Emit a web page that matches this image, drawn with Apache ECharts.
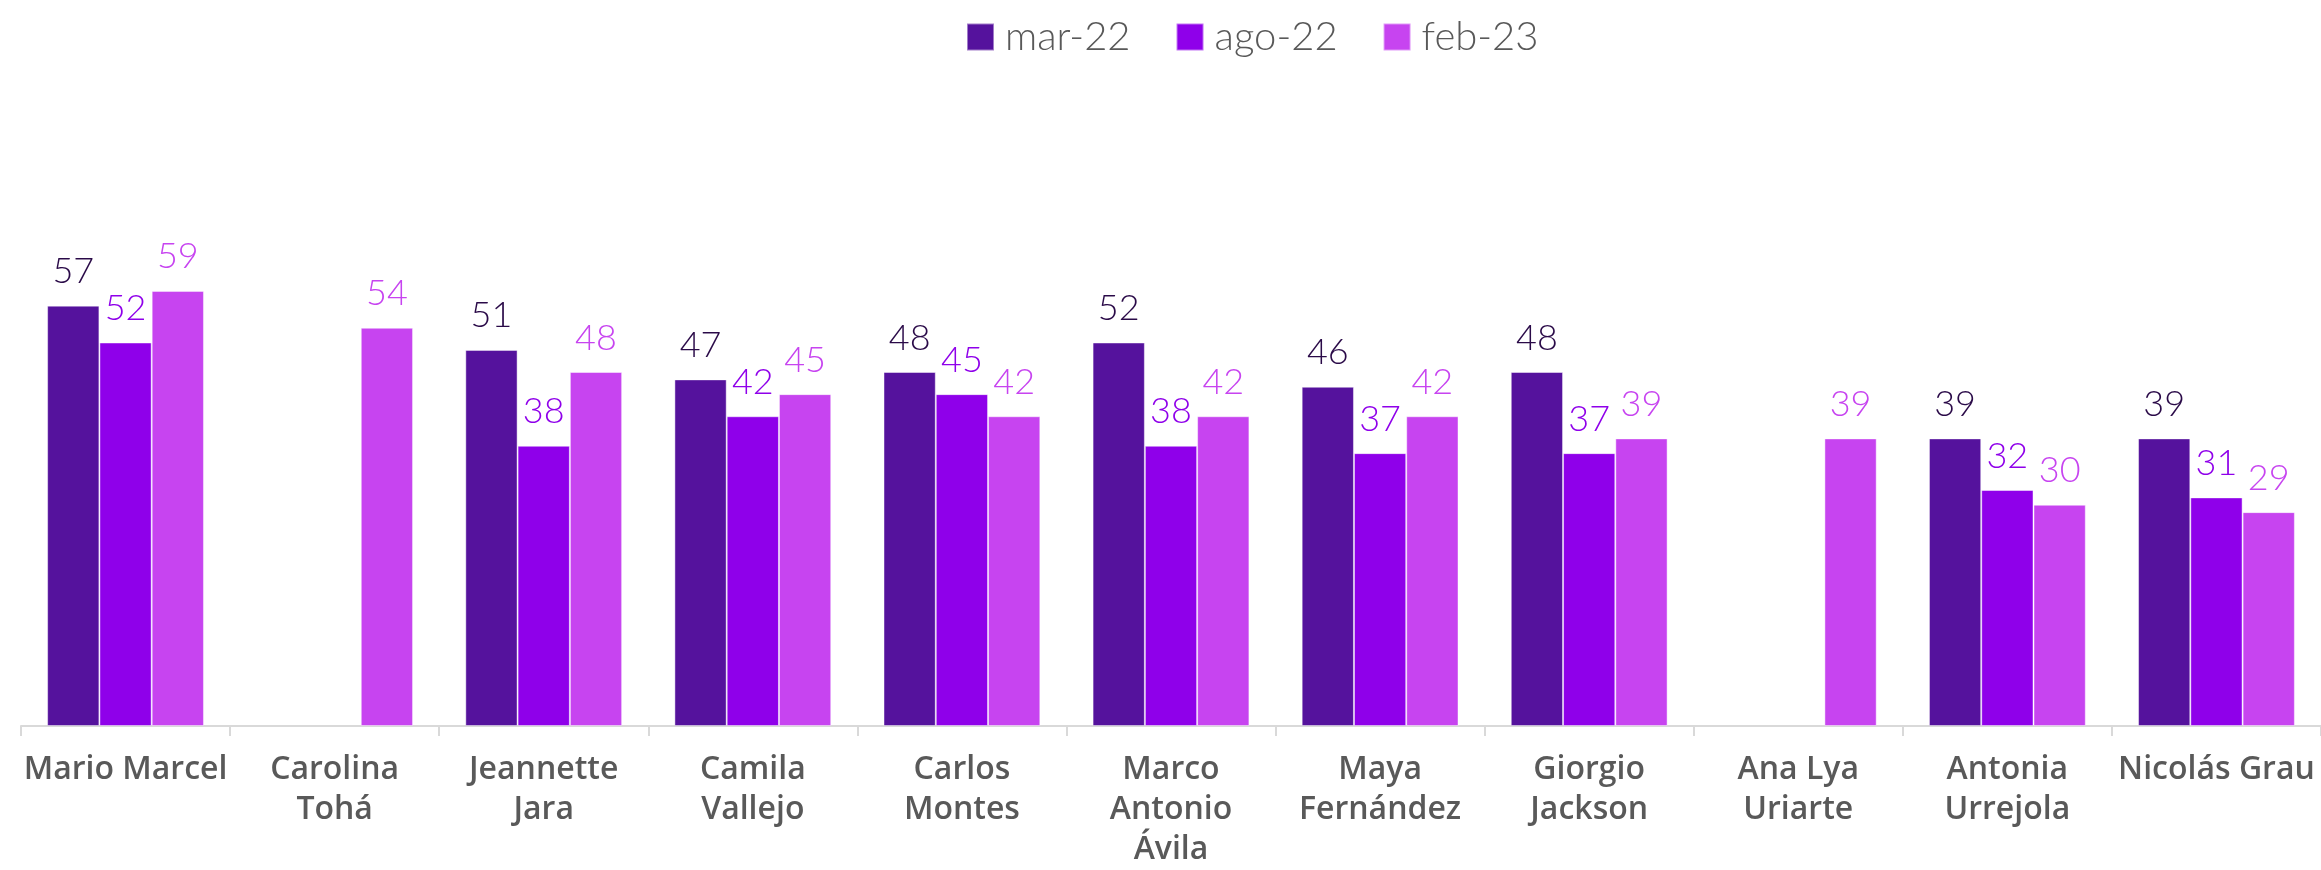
<!DOCTYPE html>
<html>
<head>
<meta charset="utf-8">
<script src="https://cdn.jsdelivr.net/npm/echarts@6/dist/echarts.min.js"></script>
<style>
  html, body { margin: 0; padding: 0; background: #fff; }
  #chart { width: 2321px; height: 870px; }
</style>
</head>
<body>
<div id="chart"></div>
<script>
var categories = ['Mario Marcel', 'Carolina\nTohá', 'Jeannette\nJara', 'Camila\nVallejo', 'Carlos\nMontes',
    'Marco\nAntonio\nÁvila', 'Maya\nFernández', 'Giorgio\nJackson', 'Ana Lya\nUriarte', 'Antonia\nUrrejola', 'Nicolás Grau'];
var seriesNames = ['mar-22', 'ago-22', 'feb-23'];
var mar22 = [57, null, 51, 47, 48, 52, 46, 48, null, 39, 39];
var ago22 = [52, null, 38, 42, 45, 38, 37, 37, null, 32, 31];
var feb23 = [59, 54, 48, 45, 42, 42, 42, 39, 39, 30, 29];

var barColors = ['#55129d', '#8f00ea', '#c744f0'];
var labelColors = ['#2a0a48', '#8f00ea', '#c744f0'];

function makeSeries(name, values, i) {
    return {
        name: name,
        type: 'bar',
        data: values,
        barGap: '0%',
        barCategoryGap: '25%',
        itemStyle: {
            color: barColors[i],
            borderColor: 'rgba(255,255,255,0.45)',
            borderWidth: 1
        },
        label: {
            show: true,
            position: 'top',
            distance: 16,
            color: labelColors[i],
            fontFamily: 'Lato',
            fontWeight: 300,
            fontSize: 36
        }
    };
}

var chart = echarts.init(document.getElementById('chart'));
var option = {
    animation: false,
    legend: {
        top: 12,
        left: 961,
        itemWidth: 27,
        itemHeight: 27,
        itemGap: 45,
        icon: 'rect',
        textStyle: {
            fontFamily: 'Lato',
            fontWeight: 300,
            fontSize: 40,
            color: '#595959',
            padding: [0, 0, 0, 6]
        },
        data: seriesNames
    },
    grid: {
        left: 21,
        top: 136,
        width: 2310,
        bottom: 133,
        containLabel: false
    },
    xAxis: {
        type: 'category',
        data: categories,
        axisLine: { lineStyle: { color: '#d9d9d9', width: 2 } },
        axisTick: { show: true, length: 10, lineStyle: { color: '#d9d9d9', width: 2 } },
        axisLabel: {
            interval: 0,
            margin: 24,
            color: '#595959',
            fontFamily: 'Open Sans',
            fontWeight: 600,
            fontSize: 32,
            lineHeight: 40
        }
    },
    yAxis: {
        type: 'value',
        min: 0,
        max: 80,
        show: false,
        splitLine: { show: false }
    },
    series: [
        makeSeries(seriesNames[0], mar22, 0),
        makeSeries(seriesNames[1], ago22, 1),
        makeSeries(seriesNames[2], feb23, 2)
    ]
};
option && chart.setOption(option);
</script>
</body>
</html>
